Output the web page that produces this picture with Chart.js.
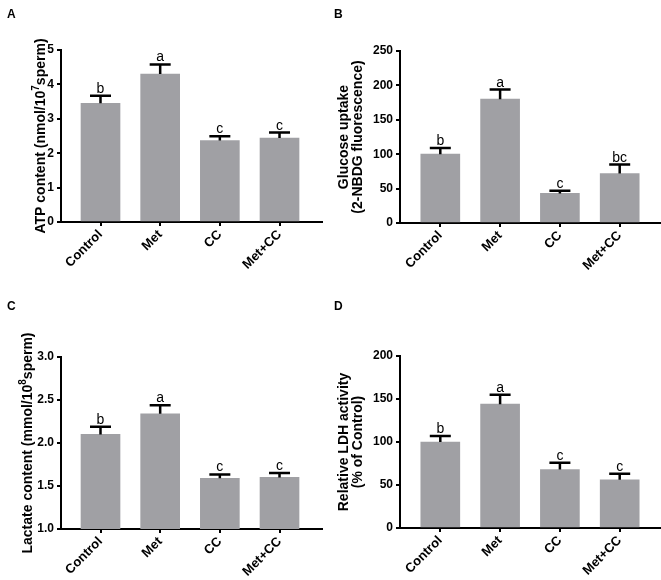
<!DOCTYPE html>
<html>
<head>
<meta charset="utf-8">
<script src="https://cdn.jsdelivr.net/npm/chart.js"></script>
<style>
  body { margin: 0; background: #fff; }
  #wrap { position: relative; width: 661px; height: 580px; }
  canvas { position: absolute; }
  .tag { position: absolute; font: bold 12px "Liberation Sans", Arial, sans-serif; line-height: 12px; color: #000; }
</style>
</head>
<body>
<div id="wrap">
  <canvas id="chartA" width="330" height="290" style="left:0;top:0"></canvas>
  <canvas id="chartB" width="331" height="290" style="left:330px;top:0"></canvas>
  <canvas id="chartC" width="330" height="290" style="left:0;top:290px"></canvas>
  <canvas id="chartD" width="331" height="290" style="left:330px;top:290px"></canvas>
  <div class="tag" style="left:7px;top:8px">A</div>
  <div class="tag" style="left:334px;top:8px">B</div>
  <div class="tag" style="left:7px;top:300px">C</div>
  <div class="tag" style="left:334px;top:300px">D</div>
</div>
<script>
// groups on the x axis
const groups = ['Control', 'Met', 'CC', 'Met+CC'];

// A - ATP
const atpMean = [3.45, 4.30, 2.37, 2.44];
const atpErr = [0.22, 0.28, 0.12, 0.16];
const atpLetters = ['b', 'a', 'c', 'c'];
const atpTicks = [0, 1, 2, 3, 4, 5];

// B - glucose uptake
const glucoseMean = [100, 180, 43, 72];
const glucoseErr = [9, 14, 4, 13];
const glucoseLetters = ['b', 'a', 'c', 'bc'];
const glucoseTicks = [0, 50, 100, 150, 200, 250];

// C - lactate
const lactateMean = [2.10, 2.34, 1.59, 1.60];
const lactateErr = [0.09, 0.10, 0.045, 0.05];
const lactateLetters = ['b', 'a', 'c', 'c'];
const lactateTicks = [1.0, 1.5, 2.0, 2.5, 3.0];

// D - LDH
const ldhMean = [100, 144, 68, 56];
const ldhErr = [7, 11, 8, 7];
const ldhLetters = ['b', 'a', 'c', 'c'];
const ldhTicks = [0, 50, 100, 150, 200];

const fontFamily = "'Liberation Sans', Arial, sans-serif";
const barColor = '#a0a0a4';

// error bar (upper half only) + significance letter
const errorBarPlugin = {
  id: 'errorBars',
  afterDatasetsDraw(chart, args, opts) {
    const { ctx } = chart;
    const x = chart.scales.x, y = chart.scales.y;
    ctx.save();
    ctx.strokeStyle = '#000';
    ctx.fillStyle = '#000';
    ctx.lineWidth = 2.5;
    ctx.font = '14px ' + fontFamily;
    ctx.textAlign = 'center';
    ctx.textBaseline = 'alphabetic';
    opts.mean.forEach((m, i) => {
      const px = x.getPixelForValue(i);
      const yTop = y.getPixelForValue(m);
      const yCap = y.getPixelForValue(m + opts.err[i]);
      ctx.beginPath();
      ctx.moveTo(px, yTop);
      ctx.lineTo(px, yCap);
      ctx.moveTo(px - 10.5, yCap);
      ctx.lineTo(px + 10.5, yCap);
      ctx.stroke();
      ctx.fillText(opts.letters[i], px, yCap - 3);
    });
    ctx.restore();
  }
};

// y title with a real superscript (Chart.js titles can't do that)
const supTitlePlugin = {
  id: 'supTitle',
  afterDraw(chart, args, opts) {
    if (!opts.parts) return;
    const { ctx, chartArea } = chart;
    const mainFont = 'bold 14px ' + fontFamily;
    const supFont = 'bold 10px ' + fontFamily;
    ctx.save();
    let total = 0;
    opts.parts.forEach(p => {
      ctx.font = p.sup ? supFont : mainFont;
      total += ctx.measureText(p.t).width;
    });
    ctx.translate(opts.x, (chartArea.top + chartArea.bottom) / 2);
    ctx.rotate(-Math.PI / 2);
    ctx.fillStyle = '#000';
    ctx.textAlign = 'left';
    ctx.textBaseline = 'middle';
    let cx = -total / 2;
    opts.parts.forEach(p => {
      ctx.font = p.sup ? supFont : mainFont;
      ctx.fillText(p.t, cx, p.sup ? -5 : 0);
      cx += ctx.measureText(p.t).width;
    });
    ctx.restore();
  }
};

function makePanel(id, mean, err, letters, yTicks, decimals, yTitle, box) {
  const plainTitle = !box.supParts;
  new Chart(document.getElementById(id), {
    type: 'bar',
    data: {
      datasets: [{
        data: mean.map((v, i) => ({ x: i, y: v })),
        backgroundColor: barColor,
        borderWidth: 0,
        barThickness: 39
      }]
    },
    options: {
      responsive: false,
      animation: false,
      layout: { padding: { top: box.top, right: box.right, left: 0, bottom: 0 } },
      plugins: {
        legend: { display: false },
        tooltip: { enabled: false },
        errorBars: { mean: mean, err: err, letters: letters },
        supTitle: { parts: box.supParts, x: box.titleX }
      },
      scales: {
        x: {
          type: 'linear',
          min: box.xMin,
          max: box.xMax,
          offset: false,
          afterBuildTicks: s => { s.ticks = groups.map((g, i) => ({ value: i })); },
          afterFit: s => { s.height = box.bottom; },
          ticks: {
            callback: v => groups[v],
            autoSkip: false,
            minRotation: 45,
            maxRotation: 45,
            padding: 1,
            color: '#000',
            font: { family: fontFamily, size: 13, weight: 'bold' }
          },
          grid: { offset: false, drawOnChartArea: false, tickLength: 4, color: '#000', lineWidth: 2 },
          border: { color: '#000', width: 2 }
        },
        y: {
          min: yTicks[0],
          max: yTicks[yTicks.length - 1],
          afterBuildTicks: s => { s.ticks = yTicks.map(v => ({ value: v })); },
          afterFit: s => { s.width = box.left; },
          ticks: {
            callback: v => v.toFixed(decimals),
            padding: 3,
            color: '#000',
            font: { family: fontFamily, size: 12, weight: 'bold' }
          },
          grid: { drawOnChartArea: false, tickLength: 4, color: '#000', lineWidth: 2 },
          border: { color: '#000', width: 2 },
          title: {
            display: plainTitle,
            text: yTitle,
            color: '#000',
            padding: { top: box.titlePad || 0, bottom: 0 },
            font: { family: fontFamily, size: 14, weight: 'bold', lineHeight: 1.0 }
          }
        }
      }
    },
    plugins: [errorBarPlugin, supTitlePlugin]
  });
}

makePanel('chartA', atpMean, atpErr, atpLetters, atpTicks, 0,
  'ATP content (nmol/10\u2077sperm)',
  { left: 61, top: 50, bottom: 68, right: 8, xMin: -0.662, xMax: 3.712, titleX: 41,
    supParts: [{ t: 'ATP content (nmol/10' }, { t: '7', sup: true }, { t: 'sperm)' }] });

makePanel('chartB', glucoseMean, glucoseErr, glucoseLetters, glucoseTicks, 0,
  ['Glucose uptake', '(2-NBDG fluorescence)'],
  { left: 70, top: 51, bottom: 67, right: 1, xMin: -0.674, xMax: 3.674, titlePad: 7.5 });

makePanel('chartC', lactateMean, lactateErr, lactateLetters, lactateTicks, 1,
  'Lactate content (mmol/10\u2078sperm)',
  { left: 61, top: 67, bottom: 51, right: 8, xMin: -0.662, xMax: 3.712, titleX: 28,
    supParts: [{ t: 'Lactate content (mmol/10' }, { t: '8', sup: true }, { t: 'sperm)' }] });

makePanel('chartD', ldhMean, ldhErr, ldhLetters, ldhTicks, 0,
  ['Relative LDH activity', '(% of Control)'],
  { left: 70, top: 66, bottom: 52, right: 1, xMin: -0.674, xMax: 3.674, titlePad: 7.5 });
</script>
</body>
</html>
